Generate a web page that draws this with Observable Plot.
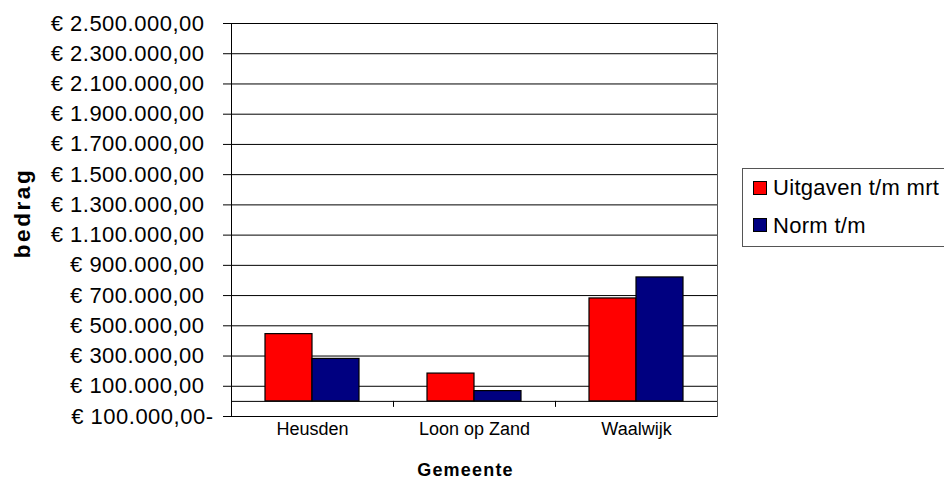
<!DOCTYPE html>
<html><head><meta charset="utf-8">
<script src="https://cdn.jsdelivr.net/npm/d3@7"></script>
<script src="https://cdn.jsdelivr.net/npm/@observablehq/plot@0.6"></script>
<style>
html,body{margin:0;padding:0;background:#fff;overflow:hidden;}
#wrap{position:relative;width:944px;height:482px;overflow:hidden;font-family:"Liberation Sans",Arial,sans-serif;}
.legend{position:absolute;left:742px;top:168px;width:215px;height:79px;border:1px solid #555;background:#fff;box-sizing:border-box;}
.sw{position:absolute;left:10px;width:14px;height:14px;border:1px solid #000;box-sizing:border-box;}
.lt{position:absolute;left:30px;font-size:22px;line-height:22px;white-space:nowrap;color:#000;letter-spacing:0.3px;}
g[aria-label="y-axis tick label"] text{letter-spacing:0.5px;}
</style>
</head><body>
<div id="wrap"></div>
<script>
const categories = ["Heusden", "Loon op Zand", "Waalwijk"];
const series = ["Uitgaven t/m mrt", "Norm t/m"];
const uitgaven = [445000, 184000, 681000];
const norm = [281000, 68000, 820000];
const colors = ["#ff0000", "#000080"];
const yTicks = [-100000, 100000, 300000, 500000, 700000, 900000, 1100000, 1300000, 1500000, 1700000, 1900000, 2100000, 2300000, 2500000];
const yDomain = [-100000, 2500000];
const xTitle = "Gemeente";
const yTitle = "bedrag";

const data = categories.flatMap((c, i) => [
  {gemeente: c, serie: series[0], bedrag: uitgaven[i]},
  {gemeente: c, serie: series[1], bedrag: norm[i]}
]);

const nl = d3.formatLocale({decimal: ",", thousands: ".", grouping: [3], currency: ["€ ", ""]});
const num = nl.format(",.2f");
const fmt = d => "€ " + num(Math.abs(d)) + (d < 0 ? "-" : "");

const W = 944, H = 482, mL = 230, mR = 227, mT = 23, mB = 66;
const yScale = Plot.scale({y: {domain: yDomain, range: [H - mB, mT]}});
const y0 = yScale.apply(0);

const plot = Plot.plot({
  width: W, height: H,
  marginLeft: mL, marginRight: mR, marginTop: mT, marginBottom: mB,
  style: {fontFamily: "Liberation Sans, Arial, sans-serif", background: "white", color: "black", overflow: "visible"},
  fx: {domain: categories, padding: 0, axis: null},
  x: {domain: series, paddingInner: 0, paddingOuter: 0.708, align: 0.5, axis: null},
  y: {domain: yDomain, axis: null},
  color: {domain: series, range: colors},
  marks: [
    Plot.ruleY(yTicks.concat([0]), {stroke: "#000", strokeWidth: 1}),
    Plot.frame({anchor: "left", facetAnchor: "left", stroke: "#000"}),
    Plot.frame({anchor: "right", facetAnchor: "right", stroke: "#555"}),
    Plot.frame({anchor: "left", insetTop: y0 - mT, insetBottom: (H - mB) - y0 - 5, stroke: "#000"}),
    Plot.barY(data, {fx: "gemeente", x: "serie", y: "bedrag", fill: "serie", stroke: "#000", strokeWidth: 1.2}),
    Plot.axisY(yTicks.filter(d => d >= 0), {anchor: "left", tickSize: 8, tickPadding: 19, fontSize: 22, tickFormat: fmt, label: null}),
    Plot.axisY(yTicks.filter(d => d < 0), {anchor: "left", tickSize: 8, tickPadding: 10, fontSize: 22, tickFormat: fmt, label: null}),
    Plot.axisFx({anchor: "bottom", tickSize: 0, tickPadding: 6, fontSize: 18, label: null}),
    Plot.text([yTitle], {facet: "super", frameAnchor: "left", rotate: -90, textAnchor: "middle", lineAnchor: "middle", dx: -209, dy: -7, fontSize: 22.5, fontWeight: "bold"}),
    Plot.text([xTitle], {facet: "super", frameAnchor: "bottom", textAnchor: "middle", lineAnchor: "middle", dx: -9, dy: 54, fontSize: 18, fontWeight: "bold"})
  ]
});
d3.select(plot).selectAll("text")
  .filter(function() { return this.textContent === yTitle; }).style("letter-spacing", "2.6px");
d3.select(plot).selectAll("text")
  .filter(function() { return this.textContent === xTitle; }).style("letter-spacing", "1.2px");
const wrap = document.getElementById("wrap");
wrap.appendChild(plot);

const legend = document.createElement("div");
legend.className = "legend";
series.forEach((s, i) => {
  const sw = document.createElement("div");
  sw.className = "sw";
  sw.style.top = (12 + i * 37) + "px";
  sw.style.background = colors[i];
  const t = document.createElement("div");
  t.className = "lt";
  t.style.top = (8 + i * 38) + "px";
  t.textContent = s;
  legend.appendChild(sw);
  legend.appendChild(t);
});
wrap.appendChild(legend);
</script>
</body></html>
